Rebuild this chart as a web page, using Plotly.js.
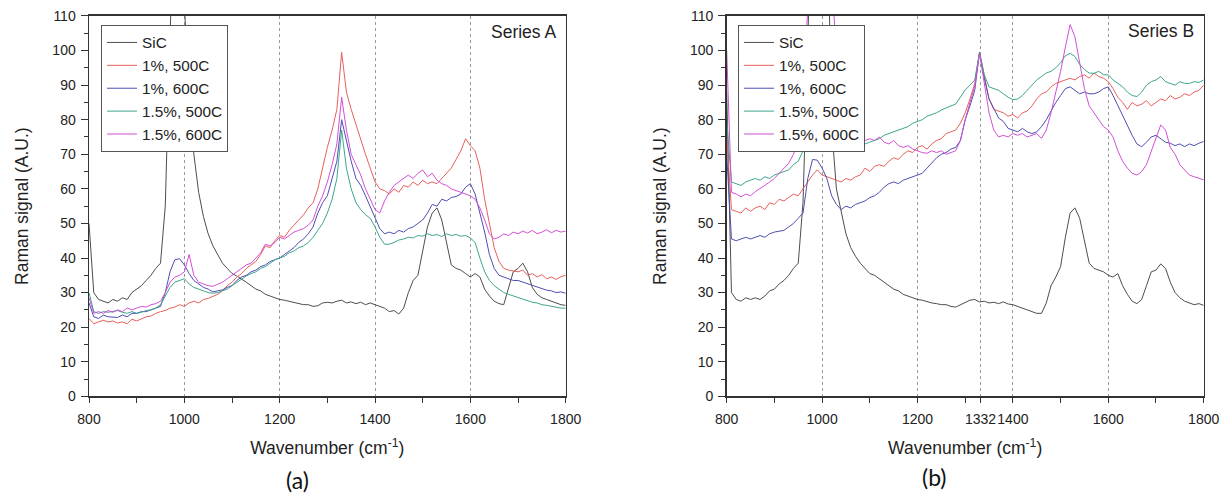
<!DOCTYPE html>
<html>
<head>
<meta charset="utf-8">
<script src="https://cdn.plot.ly/plotly-3.0.1.min.js"></script>
<style>html,body{margin:0;padding:0;background:#fff}#chart{width:1229px;height:497px}</style>
</head>
<body>
<div id="chart"></div>
<script>
// Wavenumber grid (cm^-1)
const wn = [800,810,820,830,840,850,860,870,880,890,
900,910,920,930,940,950,960,970,980,990,
1000,1010,1020,1030,1040,1050,1060,1070,1080,1090,
1100,1110,1120,1130,1140,1150,1160,1170,1180,1190,
1200,1210,1220,1230,1240,1250,1260,1270,1280,1290,
1300,1310,1320,1330,1340,1350,1360,1370,1380,1390,
1400,1410,1420,1430,1440,1450,1460,1470,1480,1490,
1500,1510,1520,1530,1540,1550,1560,1570,1580,1590,
1600,1610,1620,1630,1640,1650,1660,1670,1680,1690,
1700,1710,1720,1730,1740,1750,1760,1770,1780,1790,
1800];

const seriesNames = ["SiC","1%, 500C","1%, 600C","1.5%, 500C","1.5%, 600C"];

// ---- Series A ----
const sicA = [50,30,28,27.5,27,28,27.5,28.5,28,30,
31,32,33.5,35,37,38.5,55,105,140,170,
113,88,70,59,52,47,43.5,41,38.5,37,
35.5,34.8,34,33,32,31,30.5,29.5,29,28.5,
28,27.8,27.5,27,26.8,26.5,26.5,26,26.2,27,
27.2,27,27.5,27.8,27,27.3,26.8,27.2,26.5,27,
26.5,26,25.5,24.5,24.8,23.8,25.5,30,33.5,35,
42,49,53,54.5,51,44,38,37,36.5,35.5,
34.5,35.5,34.5,31,29,27.5,26.8,26.5,31,36,
37,38.5,36,31.5,29.5,28.5,28,27.5,27,26.5,
26.3];
const r1A = [22.5,21,21.5,22,21.5,21.8,21.2,21.5,21,22.3,
21.8,22.5,23,23.2,24,24.5,24.8,25.5,25.8,26.5,
26,27,27.5,27,28,28.3,29,29.5,30.5,32,
33,34.5,35.5,37,38,39,41,43.5,43,45,
46.5,46,48,49.5,51,52.5,54.5,56,60,66,
72,77,83,99.5,88,83,78.5,74,70,66,
62,60,59.5,58.5,60,59,61,60.5,62,61,
62.5,61.5,62,61.5,63,64.5,66,68.5,71,74.5,
72.5,71,66,57,50,43,39,37,36.5,36.3,
36,36.5,35,35.5,34.5,35.2,34,34.5,33.8,34.6,
35];
const b1A = [27,23,22.5,23.5,23,23,22.8,23.5,23,24,
24,24.5,24.5,25,25.5,26,30,36,39.5,39.8,
38,35.5,33.5,32.5,31.5,31,30.2,30.5,30.8,31.5,
32,33.5,34.5,35,36,36.5,37.5,38,39,39.5,
40,41,42,43,44.5,45.5,47,49,53,56,
58,63,68,80,74,68,63,61,58,55,
52,48.5,47,47.5,47,48,47.5,48.5,49,50,
51,53,55.5,55,57,56.5,57.5,57.8,58.5,60.5,
61.5,58.5,53,47.5,41,37,35,34.5,34,33.5,
33.5,33,32.5,32,31.5,31,30.7,30.5,30,30.2,
29.8];
const t15A = [30,24.5,24,24.5,24.3,24.5,24.8,24.3,24,24.5,
24,24.3,24.8,25,25.5,26.5,29,31.5,33,33.5,
34,32.5,31.5,31,30.5,30,29.8,30,30.5,31,
32,33,34,34.8,35.5,36,37,37.5,38.5,39.5,
40,40.5,41.5,42,43,43.5,44.5,46,48,50,
53,57,63,77,66,60,56,54,52.5,51.5,
49,46,44,44,44.5,45.2,45.5,46,45.8,46.5,
46.3,47,46.5,46.8,46.2,47,46.5,46.8,46.3,46.5,
45.8,44.5,40,36,33.5,32,31,30,29.5,29,
28.5,28,27.5,27.2,27,26.5,26.3,26,25.8,25.5,
25.5];
const m15A = [28.5,24,24.5,24,24.8,24.3,25,24.5,25.5,25,
25.5,26,25.8,26.5,26.8,27.5,30,33,34.5,35,
36,41,35,33,32.5,32,31.8,32.5,33,34,
35,35.8,37,38,38.5,40,41.5,44,43.5,44.5,
46,45.5,46.5,47.5,48,48.5,49.5,51,55,58,
62,67,73,86.5,77,70,67,64,60,57,
54,53,56.5,59,61,62,63,64,63,64.5,
65.5,63.5,64.5,62.5,61.5,61,60,59.5,59,58.5,
58,57,54.5,51,47,45.5,46,47,46.5,47.5,
47,47.8,47.2,48,47,47.5,48.2,47.3,48,47.5,
47.8];

// ---- Series B ----
const sicB = [88,30,28,27.5,28.5,28,28.5,28,29,30.5,
31,32.5,33.5,35,37,38.5,56,112,150,170,
165,150,78,60,53,47,43,40.5,38.5,37,
35.5,35,34,33,32,31,30.5,29.5,29,28.5,
28,27.8,27.3,27,26.8,26.5,26.5,26,25.8,26.5,
27,27.8,28,27.3,27.5,27,27.2,26.8,27.3,26.7,
26.5,26,25.5,25,24.5,24,24,27,32,34.5,
37.5,46,53,54.5,51.5,44.5,38.5,37,36.5,36,
35,34.5,35.5,32,29.5,27.5,26.8,28,32,36,
36.5,38.3,37,33,30,28.5,27.5,27,26.5,26.8,
26.3];
const r1B = [75,54,53.5,53,54.5,53.5,54.5,55,54,56,
55.5,57,56.5,57.5,58.5,58,60,62,64,65.5,
64,63.5,63,62.5,62,63,62.5,63.5,64,66,
65,66.5,67,66.5,68,69,68.5,70,71,70.5,
72,72.5,71.5,73,74,74.5,76,76.5,77,79,
82,86,90.5,99.5,93,86,83,82.5,82,81,
81.5,80.5,82,82.5,84,86,87.5,88,89.5,90.5,
91,91.5,92,91.5,92.5,93,92,93.5,92.5,92,
91,89,86.5,85,83,85,84,84.5,85.5,84,
85,86,85.5,87,86,86.5,87.5,87,88,88.5,
90];
const b1B = [70,45.5,45,45.5,46,45.5,46,46.5,46,47,
47.5,47.8,48,49,50,51.5,53,63,68.5,68.3,
66,63,58,55.5,54,55,54.5,55.5,56,56.5,
57.5,58,59,60.5,61.5,62,61.5,62.5,63,63.5,
64,64.5,66,67.5,69,70,70.5,71.5,72,74,
80,84,88.5,99.5,92,86,83,80.5,79.5,77.5,
77,76.5,77.5,76.5,76,76.5,78,80,82.5,85,
87,89,89.5,88.5,87.5,88,87.5,87.5,88,89,
89.5,87,84,81,78,75.5,73,72.2,73.5,75,
75.5,74.5,73.5,73.2,72.5,73,72.2,73,72.5,73.2,
73.7];
const t15B = [80,62,61.5,61,62,62.5,63,62.5,63.5,63,
64,64.5,65,65.5,67,68,71,75,77,80,
79,77.5,75.5,74,73.5,73,73.5,72.5,72.2,73,
73.5,74,74.5,75.5,76,76.5,77,77.5,78,79,
79.5,80,81,81.5,82,82.8,83.5,84,84.5,86.5,
88.6,90,91.5,99.5,93,89.5,89,88.5,87.5,86.5,
85.8,86,87,88.5,90,91.5,92.5,93.5,94,95,
96.5,98.5,99.2,98.3,96,94.5,93.5,93.4,94,93,
93,91.5,90.5,89.5,88,87,86.7,88,90,91,
91.5,92.5,91,90.5,90,91,90.5,90.5,91,90.8,
91.5];
const m15B = [100,59,58.5,57.7,58.5,58,59.2,60,61,62,
63,64.5,66,67.4,70,74,88,115,150,160,
160,150,120,100,90,82,78,76,75,74,
74.5,74,75,73.5,73,74,72.5,72,72.5,71.5,
71,70.5,70.3,71,70.5,71,70,70.5,71,74,
80,85,89.6,99.2,90,82,77,75,75.5,75,
76,75.5,76,75,75.5,76,74.6,77,82,88,
94,101,107.5,104,97,89,84,82,80,78,
77,75,71,68,66,64.5,64,65,67,71,
75,78.5,77,72,70,67,65.5,64,63.5,63,
62.6];

// Tick labels
const ticksA = [800,1000,1200,1400,1600,1800];
const minorA = [900,1100,1300,1500,1700];
const ticksB = [800,1000,1200,1332,1400,1600,1800];
const minorB = [900,1100,1300,1500,1700];

const colors = ['#4d4d4d','#e6605a','#4e4eb2','#3ea58e','#d24fd6'];
const FONT = 'Arial, "Liberation Sans", sans-serif';

const dataA = [sicA, r1A, b1A, t15A, m15A];
const dataB = [sicB, r1B, b1B, t15B, m15B];

const traces = [];
dataA.forEach((v, i) => traces.push({
  x: wn, y: v, type: 'scatter', mode: 'lines', name: seriesNames[i],
  xaxis: 'x', yaxis: 'y', legend: 'legend',
  line: {color: colors[i], width: 1}
}));
dataB.forEach((v, i) => traces.push({
  x: wn, y: v, type: 'scatter', mode: 'lines', name: seriesNames[i],
  xaxis: 'x2', yaxis: 'y2', legend: 'legend2',
  line: {color: colors[i], width: 1}
}));

function xax(domain, tv, mv, anchor) {
  return {
    domain: domain, anchor: anchor, range: [800, 1800],
    tickmode: 'array', tickvals: tv, tickangle: 0,
    showline: true, linecolor: '#333', linewidth: 1.5, mirror: true,
    ticks: 'outside', ticklen: 5, tickcolor: '#333', tickwidth: 1,
    ticklabelstandoff: 4,
    showgrid: true, gridcolor: '#9a9a9a', griddash: 'dot', gridwidth: 1,
    zeroline: false,
    minor: {tickmode: 'array', tickvals: mv, ticks: 'outside', ticklen: 5, tickcolor: '#333', showgrid: false},
    tickfont: {family: FONT, size: 14, color: '#222'},
    title: {text: 'Wavenumber (cm<sup>-1</sup>)', font: {family: FONT, size: 17.5, color: '#222'}, standoff: 16}
  };
}
function yax(anchor) {
  return {
    domain: [0.20262, 0.96781], anchor: anchor, range: [0, 110],
    tickmode: 'linear', tick0: 0, dtick: 10,
    showline: true, linecolor: '#333', linewidth: 1.5, mirror: true,
    ticks: 'outside', ticklen: 7, tickcolor: '#333', tickwidth: 1,
    ticklabelstandoff: 2,
    showgrid: false, zeroline: false,
    minor: {dtick: 5, tick0: 0, ticks: 'outside', ticklen: 4, tickcolor: '#333', showgrid: false},
    tickfont: {family: FONT, size: 14, color: '#222'},
    title: {text: 'Raman signal (A.U.)', font: {family: FONT, size: 17.5, color: '#222'}, standoff: 19}
  };
}

const legendStyle = (x) => ({
  x: x, y: 0.9497, xref: 'paper', yref: 'paper', xanchor: 'left', yanchor: 'top',
  bgcolor: '#ffffff', bordercolor: '#555', borderwidth: 1,
  font: {family: FONT, size: 15.3, color: '#222'},
  traceorder: 'normal', itemwidth: 30, tracegroupgap: 0
});

const layout = {
  width: 1229, height: 497,
  margin: {l: 0, r: 0, t: 0, b: 0},
  paper_bgcolor: '#fff', plot_bgcolor: '#fff',
  showlegend: true,
  xaxis: xax([0.07242, 0.46029], ticksA, minorA, 'y'),
  yaxis: yax('x'),
  xaxis2: xax([0.59129, 0.97941], ticksB, minorB, 'y2'),
  yaxis2: yax('x2'),
  legend: legendStyle(0.0822),
  legend2: legendStyle(0.6005),
  annotations: [
    {text: 'Series A', xref: 'x domain', yref: 'y domain', x: 1, y: 1, xanchor: 'right', yanchor: 'top',
     xshift: -7, yshift: -4, showarrow: false, font: {family: FONT, size: 17.5, color: '#222'}},
    {text: 'Series B', xref: 'x2 domain', yref: 'y2 domain', x: 1, y: 1, xanchor: 'right', yanchor: 'top',
     xshift: -8, yshift: -3, showarrow: false, font: {family: FONT, size: 17.5, color: '#222'}},
    {text: '(a)', xref: 'paper', yref: 'paper', x: 0.2417, y: 0.0342, xanchor: 'center', yanchor: 'middle',
     showarrow: false, font: {family: 'Lato, "Liberation Sans", sans-serif', size: 23, color: '#111'}},
    {text: '(b)', xref: 'paper', yref: 'paper', x: 0.760, y: 0.0402, xanchor: 'center', yanchor: 'middle',
     showarrow: false, font: {family: 'Lato, "Liberation Sans", sans-serif', size: 23, color: '#111'}}
  ]
};

Plotly.newPlot('chart', traces, layout, {staticPlot: true, displayModeBar: false});
</script>
</body>
</html>
